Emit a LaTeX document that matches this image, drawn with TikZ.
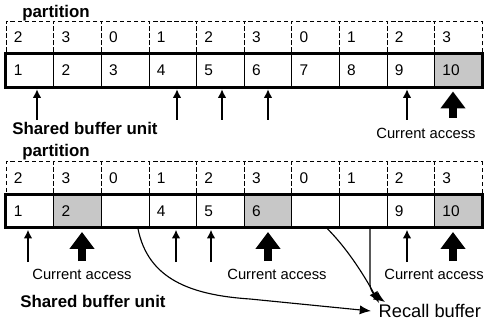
\documentclass[tikz,border=0pt]{standalone}
\usepackage{fontspec}
\setmainfont{Liberation Sans}
\usepackage{tikz}
\usetikzlibrary{calc,arrows.meta}
\tikzset{>={Latex[length=6pt,width=6pt]}}
\tikzset{
  cell/.style={minimum height=0.825cm, text width=0.79cm, inner xsep=0.2cm,
    inner ysep=0pt, align=left, font=\fontsize{11}{12}\selectfont},
  part/.style={cell, draw, densely dashed, thin},
  slot/.style={cell, draw, thin},
  hot/.style={fill=black!22},
  ptr/.style={->, line width=0.8pt},
  move/.style={-{Latex[length=8pt,width=6.5pt]}, line width=0.8pt},
  bigptr/.style={-{Triangle[length=12pt,width=17pt]}, line width=5.5pt},
  note/.style={font=\fontsize{10.5}{12}\selectfont, inner sep=0pt},
  head/.style={font=\bfseries\fontsize{12}{14}\selectfont, inner sep=0pt, anchor=west},
}

\begin{document}
\begin{tikzpicture}[x=0.025cm, y=-0.025cm]
    \useasboundingbox (0, 0) rectangle (490, 320);
    % upper table
    \node[head] (part1) at (22, 13) {partition};
    \foreach \p [count=\i] in {2,3,0,1,2,3,0,1,2,3}
      \node[part] (p1-\i) at (47.6*\i-17.8, 37.5) {\p};
    \foreach \b/\s [count=\i] in {1/,2/,3/,4/,5/,6/,7/,8/,9/,10/hot}
      \node[slot, \s] (b1-\i) at (47.6*\i-17.8, 70.5) {\b};
    \draw[line width=2.4pt] (b1-1.north west) rectangle (b1-10.south east);
    \foreach \c/\x in {1/37, 4/177, 5/222, 6/268, 9/407} {
      \coordinate (t\c) at (\x, 120);
      \draw[ptr, shorten >=1.5pt] (t\c) -- (t\c |- b1-\c.south);
    }
    \coordinate (t10) at (453, 118);
    \draw[bigptr, shorten >=3pt] (t10) -- (t10 |- b1-10.south);
    \node[head] (unit1) at (12, 128) {Shared buffer unit};
    \node[note] (acc1) at (426, 133) {Current access};

    % lower table
    \node[head] (part2) at (22, 152) {partition};
    \foreach \p [count=\i] in {2,3,0,1,2,3,0,1,2,3}
      \node[part] (p2-\i) at (47.6*\i-17.8, 178) {\p};
    \foreach \b/\s [count=\i] in {1/,2/hot,/,4/,5/,6/hot,/,/,9/,10/hot}
      \node[slot, \s] (b2-\i) at (47.6*\i-17.8, 211) {\b};
    \draw[line width=2.4pt] (b2-1.north west) rectangle (b2-10.south east);
    \foreach \c/\x in {1/28, 4/176, 5/211, 9/407} {
      \coordinate (s\c) at (\x, 262);
      \draw[ptr, shorten >=1.5pt] (s\c) -- (s\c |- b2-\c.south);
    }
    \foreach \c/\x in {2/82, 6/268, 10/453} {
      \coordinate (s\c) at (\x, 261);
      \draw[bigptr, shorten >=3pt] (s\c) -- (s\c |- b2-\c.south);
    }
    \node[note] (acc2) at (82, 274) {Current access};
    \node[note] (acc3) at (277, 274) {Current access};
    \node[note] (acc4) at (434, 274) {Current access};
    \node[head] (unit2) at (20, 301) {Shared buffer unit};
    \node[font=\fontsize{13}{15}\selectfont, anchor=west, inner sep=1pt] (recall) at (377, 311) {Recall buffer};

    % moves into the recall buffer
    \coordinate (bend) at (250, 299);
    \draw[move] ([shift={(13,1)}]b2-3.south) .. controls +(10,50) and +(-60,-4) .. (bend)
      -- ([shift={(-6,0)}]recall.west);
    \draw[move] ([shift={(12,1)}]b2-7.south) .. controls +(25,25) and +(-8,-15) .. ([shift={(2,-8)}]recall.west);
    \draw[move] ([shift={(7,1)}]b2-8.south) -- ++(0, 55) .. controls +(0,10) and +(-6,-4) .. ([shift={(8,-9)}]recall.west);
  \end{tikzpicture}
\end{document}
